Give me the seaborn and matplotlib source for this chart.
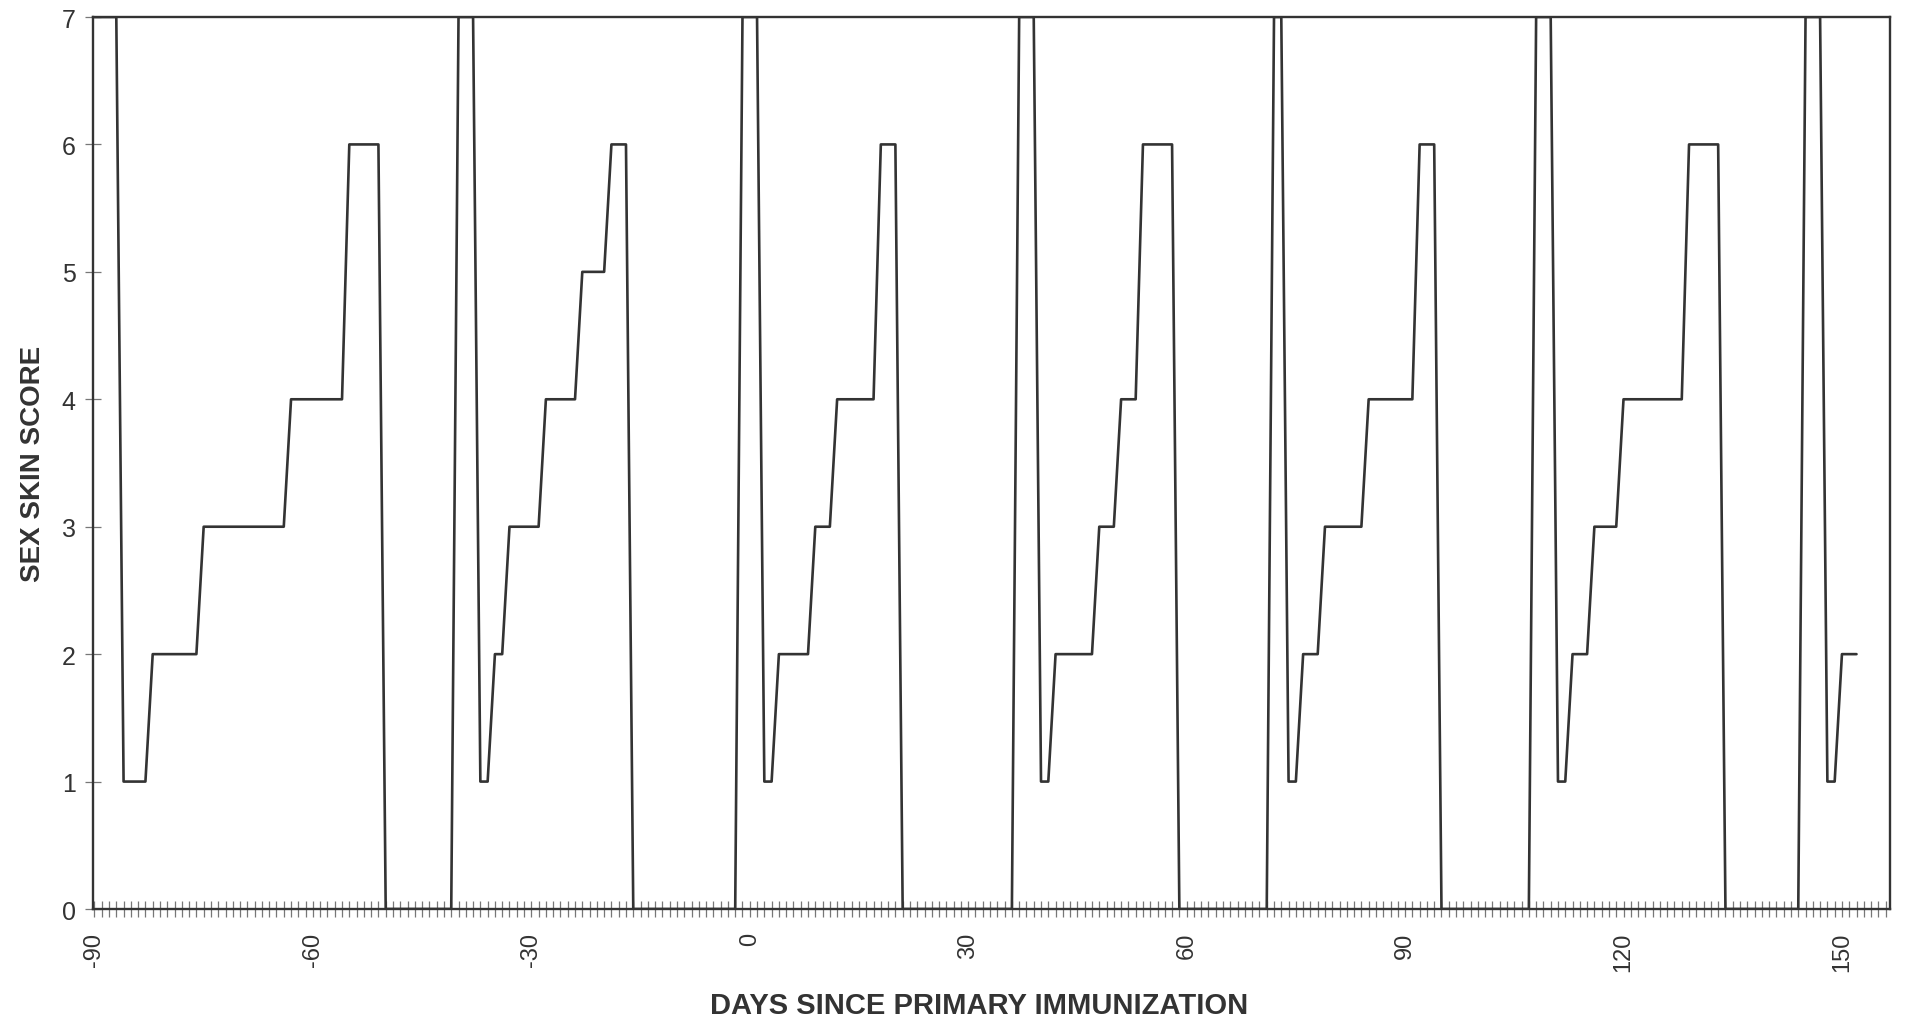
import matplotlib
matplotlib.use("Agg")
import matplotlib.pyplot as plt
import seaborn as sns
import pandas as pd
from matplotlib.ticker import MultipleLocator

# daily sex skin score, one list per cycle (day since primary immunization, score)
cycle_days = [
    [-90, -87, -86, -83, -82, -76, -75, -64, -63, -56, -55, -51, -50],
    [-41, -40, -38, -37, -36, -35, -34, -33, -29, -28, -24, -23, -20, -19, -17, -16],
    [-2, -1, 1, 2, 3, 4, 8, 9, 11, 12, 17, 18, 20, 21],
    [36, 37, 39, 40, 41, 42, 47, 48, 50, 51, 53, 54, 58, 59],
    [71, 72, 73, 74, 75, 76, 78, 79, 84, 85, 91, 92, 94, 95],
    [107, 108, 110, 111, 112, 113, 115, 116, 119, 120, 128, 129, 133, 134],
    [144, 145, 147, 148, 149, 150, 152],
]
cycle_scores = [
    [7, 7, 1, 1, 2, 2, 3, 3, 4, 4, 6, 6, 0],
    [0, 7, 7, 1, 1, 2, 2, 3, 3, 4, 4, 5, 5, 6, 6, 0],
    [0, 7, 7, 1, 1, 2, 2, 3, 3, 4, 4, 6, 6, 0],
    [0, 7, 7, 1, 1, 2, 2, 3, 3, 4, 4, 6, 6, 0],
    [0, 7, 7, 1, 1, 2, 2, 3, 3, 4, 4, 6, 6, 0],
    [0, 7, 7, 1, 1, 2, 2, 3, 3, 4, 4, 6, 6, 0],
    [0, 7, 7, 1, 1, 2, 2],
]
x_ticks = list(range(-90, 151, 30))
y_ticks = list(range(0, 8))

days = [d for c in cycle_days for d in c]
scores = [s for c in cycle_scores for s in c]
df = pd.DataFrame({"day": days, "score": scores})

sns.set_style("white")
plt.rcParams["font.family"] = ["Liberation Sans", "DejaVu Sans"]
plt.rcParams["axes.unicode_minus"] = False

ink = "#333333"
fig = plt.figure(figsize=(19.06, 10.20), dpi=100)
ax = fig.add_axes([93 / 1906, 1 - 910 / 1020, (1890 - 93) / 1906, (910 - 18) / 1020])

sns.lineplot(data=df, x="day", y="score", ax=ax, color=ink, linewidth=1.9,
             estimator=None, sort=False)

ax.set_xlim(-90.2, 156.6)
ax.set_ylim(0, 7)
ax.set_xticks(x_ticks)
ax.set_xticklabels([str(t) for t in x_ticks], rotation=90)
ax.xaxis.set_minor_locator(MultipleLocator(1))
ax.set_yticks(y_ticks)

for side in ["left", "right", "top", "bottom"]:
    ax.spines[side].set_visible(True)
    ax.spines[side].set_color(ink)
    ax.spines[side].set_linewidth(1.7)

ax.tick_params(axis="x", which="both", bottom=True, top=False, direction="inout",
               length=11, width=0.9, color="#777777")
ax.tick_params(axis="x", which="major", labelsize=17, labelcolor="#333333", pad=11)
ax.tick_params(axis="y", which="major", left=True, right=False, direction="inout",
               length=11, width=0.9, color="#777777", labelsize=18,
               labelcolor="#333333", pad=7)

ax.set_xlabel("DAYS SINCE PRIMARY IMMUNIZATION", fontsize=21, fontweight="bold", color="#333333")
ax.set_ylabel("SEX SKIN SCORE", fontsize=20, fontweight="bold", color="#333333")
ax.xaxis.set_label_coords(0.493, -0.092)
ax.yaxis.set_label_coords(-0.026, 0.5)

fig.savefig("out.png", dpi=100, facecolor="white")
